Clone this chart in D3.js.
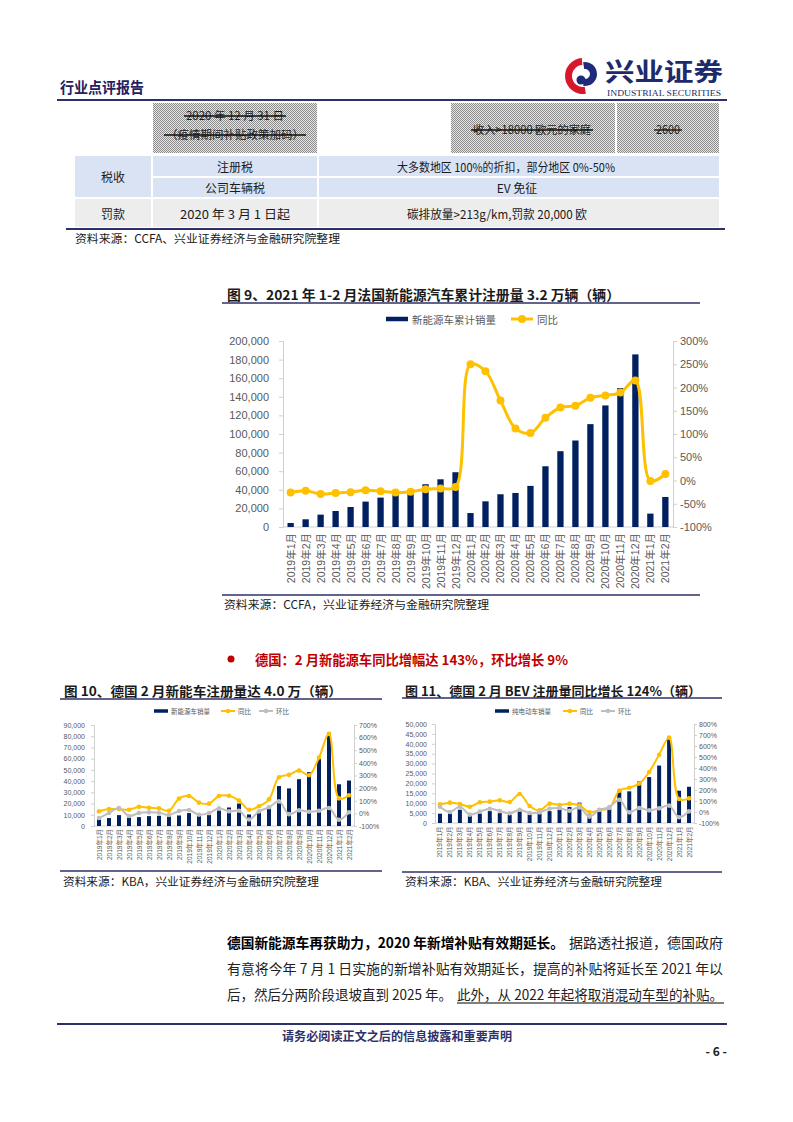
<!DOCTYPE html>
<html><head><meta charset="utf-8">
<script src="https://cdn.jsdelivr.net/npm/d3@7"></script>
<style>body{margin:0;background:#fff}svg{display:block}</style>
</head><body><svg id="page" width="793" height="1122"></svg>
<script>
// ---------------- DATA ----------------
const months = ["2019年1月","2019年2月","2019年3月","2019年4月","2019年5月","2019年6月","2019年7月","2019年8月","2019年9月","2019年10月","2019年11月","2019年12月",
  "2020年1月","2020年2月","2020年3月","2020年4月","2020年5月","2020年6月","2020年7月","2020年8月","2020年9月","2020年10月","2020年11月","2020年12月","2021年1月","2021年2月"];
const frSales = [4300,8300,13300,17200,21500,27300,31600,35500,39500,46000,51300,58900,15000,27600,35200,36600,44200,65300,81500,93000,110600,130700,149400,185600,14400,32300];
const frYoY = [-26,-22,-29,-27,-25,-21,-23,-26,-24,-19,-17,-14,250,235,172,112,102,135,157,161,178,183,189,215,-1,14];
const deSales = [5900,7100,9700,7600,7900,8800,9100,8500,9400,11500,9400,9700,13800,16500,20000,10300,12000,16200,35600,33500,41700,48000,60200,83400,37200,40500];
const deYoY = [16,34,34,29,53,45,40,21,117,138,85,77,138,140,101,29,56,111,286,305,339,302,442,630,119,143];
const deMoM = [-37,3,42,-21,3,8,5,-13,19,26,-11,3,40,16,21,-48,16,48,95,-6,24,13,21,42,-50,9];
const bevSales = [4700,4800,6700,3600,4800,6000,5000,4100,5900,4300,4700,6000,6900,8100,10300,4300,6000,7200,16600,16000,21000,23200,29000,43600,16300,18300];
const bevYoY = [70,85,73,48,88,94,106,91,164,55,15,76,64,76,61,-3,18,36,194,221,258,364,521,676,118,124];
const bevMoM = [48,0,48,-24,3,30,9,-12,21,-9,-3,30,36,12,42,-42,21,45,112,-3,36,15,33,58,-48,6];
const frLeftTicks = [0,20000,40000,60000,80000,100000,120000,140000,160000,180000,200000];
const frRightTicks = [-100,-50,0,50,100,150,200,250,300];
const deLeftTicks = [0,10000,20000,30000,40000,50000,60000,70000,80000,90000];
const deRightTicks = [-100,0,100,200,300,400,500,600,700];
const bevLeftTicks = [0,5000,10000,15000,20000,25000,30000,35000,40000,45000,50000];
const bevRightTicks = [-100,0,100,200,300,400,500,600,700,800];
const frLegend = ["新能源车累计销量","同比"];
const deLegend = ["新能源车销量","同比","环比"];
const bevLegend = ["纯电动车销量","同比","环比"];

// ---------------- STYLE ----------------
const NAVY = "#002060", GOLD = "#FFC000", GREY = "#BFBFBF", TXT = "#595959", RULE = "#2E3169";
const SANS = "'Liberation Sans','Noto Sans CJK SC',sans-serif";
const CJK = "'Noto Sans CJK SC','Liberation Sans',sans-serif";

const svg = d3.select("#page");
svg.append("rect").attr("width",793).attr("height",1122).attr("fill","#fff");
const defs = svg.append("defs");
const pat = defs.append("pattern").attr("id","hatch").attr("width",2).attr("height",2).attr("patternUnits","userSpaceOnUse");
pat.append("rect").attr("width",2).attr("height",2).attr("fill","#e6e6e6");
pat.append("rect").attr("width",1).attr("height",1).attr("fill","#8c8c8c");
pat.append("rect").attr("x",1).attr("y",1).attr("width",1).attr("height",1).attr("fill","#8c8c8c");

function txt(x,y,s,o={}){
  const t = svg.append("text").attr("x",x).attr("y",y).text(s)
    .attr("font-family",o.ff||CJK).attr("font-size",o.fs||12).attr("fill",o.fill||"#1a1a1a")
    .attr("font-weight",o.fw||"normal").attr("text-anchor",o.anchor||"start").attr("dominant-baseline","central");
  if(o.len) t.attr("textLength",o.len).attr("lengthAdjust","spacingAndGlyphs");
  return t;
}
function hline(x1,x2,y,w,c){svg.append("line").attr("x1",x1).attr("x2",x2).attr("y1",y).attr("y2",y).attr("stroke",c).attr("stroke-width",w);}

// ---------------- HEADER ----------------
txt(60,86,"行业点评报告",{fs:15,fw:"bold",fill:"#1F2160",len:84});
// logo
const lg = svg.append("g").attr("transform","translate(583,76)");
lg.append("path").attr("d",d3.arc()({innerRadius:11,outerRadius:18,startAngle:Math.PI*0.95,endAngle:Math.PI*1.98})).attr("fill","#D7182A");
lg.append("path").attr("d",d3.arc()({innerRadius:5,outerRadius:12,startAngle:-Math.PI*0.05,endAngle:Math.PI*1.05})).attr("fill","#1D2B7A").attr("transform","translate(2,-2)");
lg.append("circle").attr("cx",-2).attr("cy",4).attr("r",4.5).attr("fill","#1D2B7A");
txt(605,70,"兴业证券",{fs:25,fw:"bold",fill:"#1D2B6B",len:118});
txt(607,93,"INDUSTRIAL SECURITIES",{fs:9,ff:"'Liberation Serif',serif",fill:"#1D2B6B",len:114});
hline(57,727,100,2,RULE);

// ---------------- TABLE ----------------
const cols = [74,152,318,450,616,720];
function cell(x1,x2,y1,y2,fill){svg.append("rect").attr("x",x1+1).attr("y",y1+1).attr("width",x2-x1-2).attr("height",y2-y1-2).attr("fill",fill);}
cell(cols[1],cols[2],102,154,"url(#hatch)");
cell(cols[3],cols[4],102,154,"url(#hatch)");
cell(cols[4],cols[5],102,154,"url(#hatch)");
cell(cols[0],cols[1],155,198,"#DAE3F3");
cell(cols[1],cols[2],155,177,"#DAE3F3");
cell(cols[2],cols[5],155,177,"#DAE3F3");
cell(cols[1],cols[2],177,198,"#DAE3F3");
cell(cols[2],cols[5],177,198,"#DAE3F3");
cell(cols[0],cols[1],198,228,"#EDEDED");
cell(cols[1],cols[2],198,228,"#EDEDED");
cell(cols[2],cols[5],198,228,"#EDEDED");
function strike(x,y,s,len){txt(x,y,s,{anchor:"middle",fs:11.5,len:len});hline(x-len/2-2,x+len/2+2,y+1,1.3,"#111");}
strike(235,115,"2020 年 12 月 31 日",98);
strike(235,134,"（疫情期间补贴政策加码）",138);
strike(532,129,"收入>18000 欧元的家庭",118);
strike(668,129,"2600",24);
const tfs = 12;
txt(113,176,"税收",{anchor:"middle",fs:tfs});
txt(235,166,"注册税",{anchor:"middle",fs:tfs});
txt(506,166,"大多数地区 100%的折扣，部分地区 0%-50%",{anchor:"middle",fs:tfs,len:218});
txt(235,187,"公司车辆税",{anchor:"middle",fs:tfs});
txt(517,187,"EV 免征",{anchor:"middle",fs:tfs});
txt(113,213,"罚款",{anchor:"middle",fs:tfs});
txt(235,213,"2020 年 3 月 1 日起",{anchor:"middle",fs:tfs,len:110});
txt(497,213,"碳排放量>213g/km,罚款 20,000 欧",{anchor:"middle",fs:tfs,len:180});
hline(66,725,229,2,RULE);
txt(75,238,"资料来源：CCFA、兴业证券经济与金融研究院整理",{fs:11.5,len:265});

// ---------------- COMBO CHART FUNCTION ----------------
function drawCombo(o){
  const g = svg.append("g");
  const x = d3.scaleBand().domain(months).range([o.x0,o.x1]).paddingInner(o.pad||0.6).paddingOuter(0.3);
  const yL = d3.scaleLinear().domain(o.lDom).range([o.yB,o.yT]);
  const yR = d3.scaleLinear().domain(o.rDom).range([o.yB,o.yT]);
  const cx = d => x(d)+x.bandwidth()/2;
  const aL = g.append("g").attr("transform",`translate(${o.x0},0)`)
    .call(d3.axisLeft(yL).tickValues(o.lTicks).tickFormat(d3.format(",")).tickSize(o.tk).tickPadding(o.padL));
  const aR = g.append("g").attr("transform",`translate(${o.x1},0)`)
    .call(d3.axisRight(yR).tickValues(o.rTicks).tickFormat(d=>d+"%").tickSize(o.tk).tickPadding(o.padR));
  [aL,aR].forEach(a=>{
    a.select(".domain").attr("stroke","#D0D0D0");
    a.selectAll(".tick line").attr("stroke","#D0D0D0");
    a.selectAll("text").attr("fill",TXT).attr("font-size",o.fs).attr("font-family",SANS);
  });
  g.append("line").attr("x1",o.x0).attr("x2",o.x1).attr("y1",o.yB).attr("y2",o.yB).attr("stroke","#D0D0D0");
  g.selectAll(".bar").data(o.bars).join("rect")
    .attr("x",(d,i)=>x(months[i])).attr("y",d=>yL(d)).attr("width",x.bandwidth()).attr("height",d=>yL(0)-yL(d)).attr("fill",NAVY);
  g.selectAll(".xl").data(months).join("text")
    .attr("transform",d=>`translate(${cx(d)},${o.yB+o.xOff}) rotate(-90)`)
    .attr("text-anchor","end").attr("dominant-baseline","central")
    .attr("font-size",o.xfs).attr("font-family",SANS).attr("fill",TXT).text(d=>d);
  const line = d3.line().x((d,i)=>cx(months[i])).y(d=>yR(d)).curve(d3.curveCatmullRom.alpha(0.5));
  o.lines.forEach(s=>{
    g.append("path").attr("d",line(s.v)).attr("fill","none").attr("stroke",s.c).attr("stroke-width",o.lw);
    g.selectAll(null).data(s.v).join("circle").attr("cx",(d,i)=>cx(months[i])).attr("cy",d=>yR(d)).attr("r",o.r).attr("fill",s.c);
  });
  // legend
  const L = o.legend; let lx = L.x;
  L.names.forEach((n,i)=>{
    if(i===0){
      g.append("rect").attr("x",lx).attr("y",L.y-L.h/2).attr("width",L.w).attr("height",L.h).attr("fill",NAVY);
    } else {
      const c = i===1?GOLD:GREY;
      g.append("line").attr("x1",lx).attr("x2",lx+L.w).attr("y1",L.y).attr("y2",L.y).attr("stroke",c).attr("stroke-width",o.lw);
      g.append("circle").attr("cx",lx+L.w/2).attr("cy",L.y).attr("r",o.r).attr("fill",c);
    }
    g.append("text").attr("x",lx+L.w+L.gap).attr("y",L.y).attr("dominant-baseline","central")
      .attr("font-size",L.fs).attr("font-family",CJK).attr("fill",TXT).text(n);
    lx += L.steps[i];
  });
}

// ---------------- FIG 9 ----------------
txt(227,294,"图 9、2021 年 1-2 月法国新能源汽车累计注册量 3.2 万辆（辆）",{fs:13.5,fw:"bold",len:393});
hline(222,700,303,1.5,RULE);
drawCombo({x0:283,x1:673,yB:527,yT:341,lDom:[0,200000],rDom:[-100,300],lTicks:frLeftTicks,rTicks:frRightTicks,
  tk:4,padL:10,padR:3,fs:11,xfs:10.5,xOff:6,bars:frSales,lw:3,r:4,pad:0.58,
  lines:[{v:frYoY,c:GOLD}],
  legend:{x:386,y:319,w:22,h:4.5,gap:4,fs:10.5,names:frLegend,steps:[125,0]}});
hline(222,700,595,1.5,RULE);
txt(224,604,"资料来源：CCFA，兴业证券经济与金融研究院整理",{fs:11.5,len:265});

// ---------------- SECTION HEADING ----------------
svg.append("circle").attr("cx",231).attr("cy",659).attr("r",3.5).attr("fill","#C00000");
txt(255,659,"德国：2 月新能源车同比增幅达 143%，环比增长 9%",{fs:13.5,fw:"bold",fill:"#C00000",len:313});

// ---------------- FIG 10 ----------------
txt(64,690,"图 10、德国 2 月新能车注册量达 4.0 万（辆）",{fs:13,fw:"bold",len:278});
hline(60,382,699,1.5,RULE);
drawCombo({x0:94,x1:354,yB:826,yT:725,lDom:[0,90000],rDom:[-100,700],lTicks:deLeftTicks,rTicks:deRightTicks,
  tk:3,padL:6,padR:2,fs:7,xfs:6.5,xOff:3,bars:deSales,lw:2,r:2.3,
  lines:[{v:deYoY,c:GOLD},{v:deMoM,c:GREY}],
  legend:{x:154,y:711,w:14,h:3.5,gap:3,fs:6.5,names:deLegend,steps:[67,38,0]}});
hline(60,382,871,1.5,RULE);
txt(63,881,"资料来源：KBA，兴业证券经济与金融研究院整理",{fs:11.5,len:256});

// ---------------- FIG 11 ----------------
txt(405,690,"图 11、德国 2 月 BEV 注册量同比增长 124%（辆）",{fs:13,fw:"bold",len:296});
hline(402,722,698,1.5,RULE);
drawCombo({x0:435,x1:694,yB:823,yT:724,lDom:[0,50000],rDom:[-100,800],lTicks:bevLeftTicks,rTicks:bevRightTicks,
  tk:3,padL:5,padR:2,fs:7,xfs:6.5,xOff:3.5,bars:bevSales,lw:2,r:2.3,
  lines:[{v:bevYoY,c:GOLD},{v:bevMoM,c:GREY}],
  legend:{x:495,y:711,w:14,h:3.5,gap:3,fs:6.5,names:bevLegend,steps:[68,38,0]}});
hline(402,722,872,1.5,RULE);
txt(405,881,"资料来源：KBA、兴业证券经济与金融研究院整理",{fs:11.5,len:257});

// ---------------- PARAGRAPH ----------------
const pfs = 14;
txt(227,942,"德国新能源车再获助力，2020 年新增补贴有效期延长。",{fs:pfs,fw:"bold",fill:"#000",len:337});
txt(569,942,"据路透社报道，德国政府",{fs:pfs,fill:"#222",len:154});
txt(227,968,"有意将今年 7 月 1 日实施的新增补贴有效期延长，提高的补贴将延长至 2021 年以",{fs:pfs,fill:"#222",len:496});
txt(227,994,"后，然后分两阶段退坡直到 2025 年。",{fs:pfs,fill:"#222",len:225});
txt(457,994,"此外，从 2022 年起将取消混动车型的补贴。",{fs:pfs,fill:"#222",len:266});
hline(457,724,1003,1.2,"#000");

// ---------------- FOOTER ----------------
hline(57,727,1024,2,RULE);
txt(282,1035,"请务必阅读正文之后的信息披露和重要声明",{fs:12,fw:"bold",fill:"#2E3169",len:230});
txt(727,1050,"- 6 -",{fs:12,fw:"bold",fill:"#222",anchor:"end"});
</script></body></html>
